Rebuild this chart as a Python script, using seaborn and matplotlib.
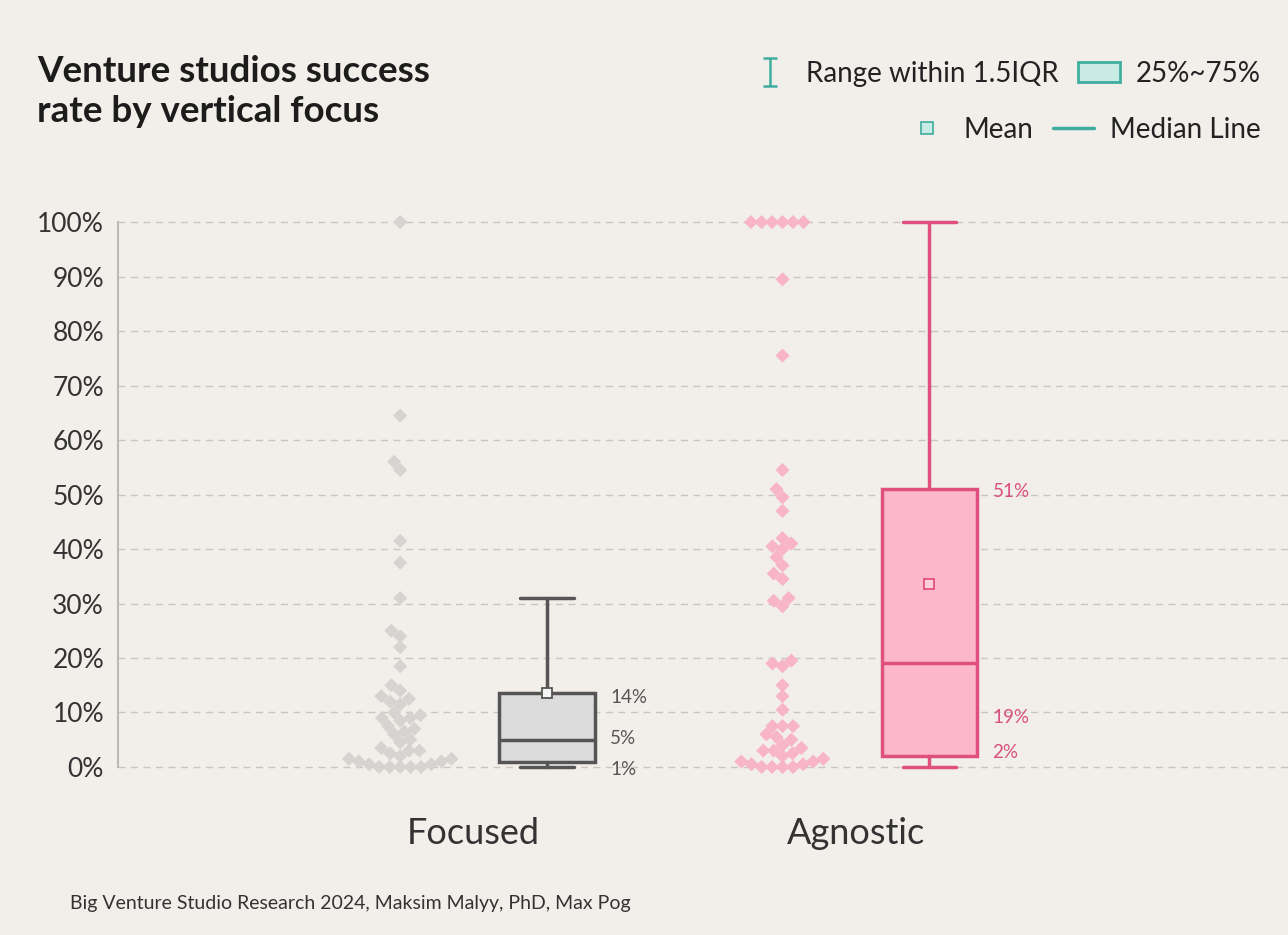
import pandas as pd
import seaborn as sns
import matplotlib.pyplot as plt
from matplotlib.lines import Line2D
from matplotlib.patches import Patch
from matplotlib.path import Path


# --- data ------------------------------------------------------------------
groups = ["Focused", "Agnostic"]

focused_rates = [100, 64.5, 56, 54.5, 41.5, 37.5, 31, 25, 24, 22, 18.5, 15,
                 14, 13, 12.5, 12, 11.5, 10, 9.5, 9, 9, 8.5, 7.5, 7, 6.5, 6,
                 5, 4.5, 3.5, 3, 3, 2.5, 2, 1.5, 1.5, 1, 1, 0.5, 0.5,
                 0, 0, 0, 0, 0]

agnostic_rates = [100, 100, 100, 100, 100, 100, 89.5, 75.5, 54.5,
                  51, 49.5, 47, 42, 41, 40.5, 40, 38.5, 37, 35.5, 34.5, 31,
                  30.5, 29.5, 19.5, 19, 18.5, 15, 13, 10.5, 7.5, 7.5, 7.5, 6,
                  5.5, 5, 4, 3.5, 3, 3, 2.5, 2, 1.5, 1, 1, 0.5, 0.5,
                  0, 0, 0, 0]

# box statistics (percent)
whisk_lo = [0, 0]
q1 = [1, 2]
medians = [5, 19]
q3 = [13.5, 51]
whisk_hi = [31, 100]
means = [13.5, 33.5]

yticks = [0, 10, 20, 30, 40, 50, 60, 70, 80, 90, 100]

# --- styling ---------------------------------------------------------------
BG = "#f2efeb"
GRAY_PT, PINK_PT = "#d6d3d0", "#f8b4c8"
GRAY_BOX, GRAY_EDGE = "#dcdcdc", "#555555"
PINK_BOX, PINK_EDGE = "#fcb7ca", "#e0507e"
TEAL, TEAL_FILL = "#3fae9f", "#c8ece5"
OFFSET = 0.192  # swarm left / box right of each category

# label placement (value-axis position for each annotation)
label_y = [[12.8, 5.3, -0.4], [50.6, 9.0, 2.6]]


def main():
  sns.set_theme(style="white")
  plt.rcParams['font.family'] = ['Lato', 'DejaVu Sans']

  fig = plt.figure(figsize=(12.88, 9.35), dpi=100, facecolor=BG)
  ax = fig.add_axes([118 / 1288, 160 / 935, 1 - 118 / 1288, 560 / 935])
  ax.set_facecolor(BG)

  # scatter (beeswarm) left of each category
  df = pd.DataFrame({
    "group": ["Focused"] * len(focused_rates) + ["Agnostic"] * len(agnostic_rates),
    "rate": focused_rates + agnostic_rates,
  })
  df["pos"] = df["group"].map({g: i - OFFSET for i, g in enumerate(groups)})
  sns.swarmplot(data=df, x="pos", y="rate", hue="group", native_scale=True,
                palette={"Focused": GRAY_PT, "Agnostic": PINK_PT},
                marker="D", size=7.2, linewidth=0, legend=False, ax=ax, zorder=3)

  # boxes right of each category
  styles = [(GRAY_BOX, GRAY_EDGE, "#f4f4f4"), (PINK_BOX, PINK_EDGE, "#fdd0dc")]
  for i, (face, edge, mface) in enumerate(styles):
    st = dict(whislo=whisk_lo[i], q1=q1[i], med=medians[i], q3=q3[i],
              whishi=whisk_hi[i], mean=means[i], fliers=[])
    ax.bxp([st], positions=[i + OFFSET], widths=0.25, capwidths=0.14,
           showmeans=True, showfliers=False, patch_artist=True,
           boxprops=dict(facecolor=face, edgecolor=edge, linewidth=2.5),
           medianprops=dict(color=edge, linewidth=2.5),
           whiskerprops=dict(color=edge, linewidth=2.5),
           capprops=dict(color=edge, linewidth=2.5),
           meanprops=dict(marker="s", markersize=7, markerfacecolor=mface,
                          markeredgecolor=edge, markeredgewidth=1.3),
           zorder=4)
    txt_color = "#555555" if i == 0 else "#d9507f"
    for val, yy in zip([q3[i], medians[i], q1[i]], label_y[i]):
      ax.annotate(f"{val:.0f}%", xy=(i + OFFSET + 0.125, yy),
                  xytext=(11, 0), textcoords="offset points",
                  va="center", ha="left", fontsize=13.5, color=txt_color)

  # axes
  ax.set_xlim(-0.93, 2.13)
  ax.set_ylim(-1.47, 101.3)
  ax.set_xticks(range(len(groups)))
  ax.set_xticklabels(groups, fontsize=26, color="#333333")
  ax.set_yticks(yticks)
  ax.set_yticklabels([f"{t}%" for t in yticks], fontsize=19, color="#333333")
  ax.tick_params(axis="both", length=0)
  ax.tick_params(axis="x", pad=30)
  ax.tick_params(axis="y", pad=10)
  ax.set_xlabel("")
  ax.set_ylabel("")
  ax.yaxis.grid(True, linestyle=(0, (5, 4)), color="#c9c6c2", linewidth=1)
  ax.xaxis.grid(False)
  for side in ["top", "right", "bottom"]:
    ax.spines[side].set_visible(False)
  ax.spines["left"].set_color("#bdbab6")
  ax.spines["left"].set_linewidth(1.5)
  ax.spines["left"].set_bounds(0, 100)

  # title and footer
  fig.text(37 / 1288, 1 - 55 / 935, "Venture studios success\nrate by vertical focus",
           ha="left", va="top", fontsize=26.5, fontweight="bold", color="#1c1c1c",
           linespacing=1.25)
  fig.text(70 / 1288, 1 - 903 / 935,
           "Big Venture Studio Research 2024, Maksim Malyy, PhD, Max Pog",
           ha="left", va="center", fontsize=14, color="#333333")

  # legend (two right-aligned rows)
  ibeam = Path([(-0.5, 1), (0.5, 1), (0, 1), (0, -1), (-0.5, -1), (0.5, -1)],
               [Path.MOVETO, Path.LINETO, Path.MOVETO, Path.LINETO,
                Path.MOVETO, Path.LINETO])
  row1 = [Line2D([], [], linestyle="none", marker=ibeam, markersize=20,
                 markeredgecolor=TEAL, markeredgewidth=1.8),
          Patch(facecolor=TEAL_FILL, edgecolor=TEAL, linewidth=2)]
  row2 = [Line2D([], [], linestyle="none", marker="s", markersize=9,
                 markerfacecolor=TEAL_FILL, markeredgecolor=TEAL, markeredgewidth=1.2),
          Line2D([], [], color=TEAL, linewidth=2.5)]
  leg_kw = dict(loc="upper right", ncol=2, frameon=False, fontsize=20,
                handlelength=1.5, handletextpad=0.55, columnspacing=0.7,
                labelcolor="#222222")
  fig.legend(row1, ["Range within 1.5IQR", "25%~75%"],
             bbox_to_anchor=(0.998, 0.962), **leg_kw)
  fig.legend(row2, ["Mean", "Median Line"],
             bbox_to_anchor=(0.998, 0.902), **leg_kw)

  fig.savefig("out.png", dpi=100, facecolor=BG)


if __name__ == "__main__":
  main()
